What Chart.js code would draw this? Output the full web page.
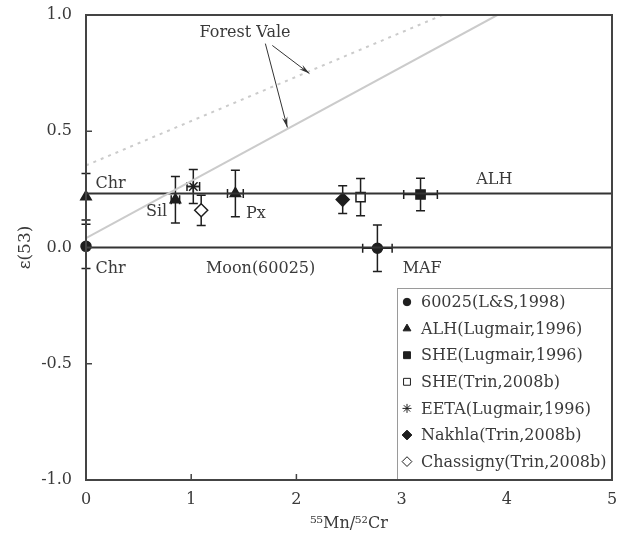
<!DOCTYPE html>
<html>
<head>
<meta charset="utf-8">
<script src="https://cdn.jsdelivr.net/npm/chart.js@4/dist/chart.umd.min.js"></script>
<style>
  html, body { margin: 0; background: #fff; }
  canvas { display: block; }
</style>
</head>
<body>
<canvas id="chart" width="620" height="535"></canvas>
<script>
const X_TICKS = [0, 1, 2, 3, 4, 5];
const Y_TICKS = [-1, -0.5, 0, 0.5, 1];

// reference lines
const ALH_LINE_X = [0, 5];
const ALH_LINE_Y = [0.232, 0.232];
const MOON_LINE_X = [0, 5];
const MOON_LINE_Y = [0, 0];
const FV_X = [0, 3.91];
const FV_Y = [0.04, 1.0];
const FV_DOT_X = [0, 3.39];
const FV_DOT_Y = [0.353, 1.0];

// samples: value, x error, y error
const LS_X = [0, 2.77];
const LS_Y = [0.005, -0.003];
const LS_EX = [0, 0.14];
const LS_EY = [0.095, 0.1];

const ALH_X = [0, 0.85, 1.42];
const ALH_Y = [0.218, 0.205, 0.232];
const ALH_EX = [0, 0.04, 0.075];
const ALH_EY = [0.1, 0.1, 0.1];

const SHEL_X = [3.18];
const SHEL_Y = [0.228];
const SHEL_EX = [0.16];
const SHEL_EY = [0.07];

const SHET_X = [2.61];
const SHET_Y = [0.217];
const SHET_EX = [0.03];
const SHET_EY = [0.08];

const EETA_X = [1.02];
const EETA_Y = [0.262];
const EETA_EX = [0.06];
const EETA_EY = [0.073];

const NAK_X = [2.44];
const NAK_Y = [0.206];
const NAK_EX = [0];
const NAK_EY = [0.06];

const CHA_X = [1.095];
const CHA_Y = [0.16];
const CHA_EX = [0];
const CHA_EY = [0.065];

const NOTES = [
  ["Forest Vale", 1.08, 0.925],
  ["Chr", 0.09, 0.275],
  ["Chr", 0.09, -0.09],
  ["Sil", 0.57, 0.155],
  ["Px", 1.52, 0.145],
  ["ALH", 3.71, 0.29],
  ["Moon(60025)", 1.14, -0.09],
  ["MAF", 3.01, -0.09],
];
const ARROWS = [
  [1.705, 0.877, 1.914, 0.516],
  [1.771, 0.869, 2.124, 0.748],
];

const FONT = "'DejaVu Serif', 'Liberation Serif', serif";
const INK = "#1e1e1e";
const TXT = "#3a3a3a";

const pts = (xs, ys) => xs.map((x, i) => ({ x, y: ys[i] }));

function lineSet(xs, ys, color, dash) {
  return {
    data: pts(xs, ys),
    showLine: true,
    borderColor: color,
    borderWidth: 2,
    borderDash: dash || [],
    pointRadius: 0,
    isLine: true,
  };
}

function pointSet(label, xs, ys, ex, ey, style, radius, fill) {
  return {
    label,
    data: pts(xs, ys),
    errX: ex,
    errY: ey,
    clip: false,
    pointStyle: style,
    pointRadius: radius,
    pointBackgroundColor: fill,
    pointBorderColor: INK,
    pointBorderWidth: 1.5,
    backgroundColor: fill,
    borderColor: INK,
    showLine: false,
  };
}

const errorBars = {
  id: "errorBars",
  beforeDatasetDraw(chart, args) {
    const ds = chart.data.datasets[args.index];
    if (!ds.errY) return;
    const { ctx, scales: { x, y } } = chart;
    ctx.save();
    ctx.strokeStyle = INK;
    ctx.lineWidth = 1.5;
    const cap = 4.5;
    ds.data.forEach((p, i) => {
      const px = x.getPixelForValue(p.x);
      const py = y.getPixelForValue(p.y);
      const ey = ds.errY[i] || 0;
      const ex = ds.errX[i] || 0;
      ctx.beginPath();
      if (ey) {
        const t = y.getPixelForValue(p.y + ey);
        const b = y.getPixelForValue(p.y - ey);
        ctx.moveTo(px, t); ctx.lineTo(px, b);
        ctx.moveTo(px - cap, t); ctx.lineTo(px + cap, t);
        ctx.moveTo(px - cap, b); ctx.lineTo(px + cap, b);
      }
      if (ex) {
        const l = x.getPixelForValue(p.x - ex);
        const r = x.getPixelForValue(p.x + ex);
        ctx.moveTo(l, py); ctx.lineTo(r, py);
        ctx.moveTo(l, py - cap); ctx.lineTo(l, py + cap);
        ctx.moveTo(r, py - cap); ctx.lineTo(r, py + cap);
      }
      ctx.stroke();
    });
    ctx.restore();
  },
};

const frame = {
  id: "frame",
  afterDatasetsDraw(chart) {
    const { ctx, chartArea: a, scales: { x, y } } = chart;
    ctx.save();
    // inward ticks
    ctx.strokeStyle = "#444";
    ctx.lineWidth = 1.5;
    ctx.beginPath();
    X_TICKS.forEach((v) => {
      const px = x.getPixelForValue(v);
      ctx.moveTo(px, a.bottom); ctx.lineTo(px, a.bottom - 6);
    });
    Y_TICKS.forEach((v) => {
      const py = y.getPixelForValue(v);
      ctx.moveTo(a.left, py); ctx.lineTo(a.left + 6, py);
    });
    ctx.stroke();

    // notes and arrows
    ctx.fillStyle = TXT;
    ctx.font = "16px " + FONT;
    ctx.textBaseline = "middle";
    ctx.textAlign = "left";
    NOTES.forEach(([t, vx, vy]) => {
      ctx.fillText(t, x.getPixelForValue(vx), y.getPixelForValue(vy));
    });
    ctx.strokeStyle = "#333";
    ctx.fillStyle = "#333";
    ctx.lineWidth = 1;
    ARROWS.forEach(([x0, y0, x1, y1]) => {
      const ax = x.getPixelForValue(x0), ay = y.getPixelForValue(y0);
      const bx = x.getPixelForValue(x1), by = y.getPixelForValue(y1);
      const ang = Math.atan2(by - ay, bx - ax);
      ctx.beginPath();
      ctx.moveTo(ax, ay); ctx.lineTo(bx, by);
      ctx.stroke();
      ctx.beginPath();
      ctx.moveTo(bx, by);
      ctx.lineTo(bx - 11 * Math.cos(ang - 0.25), by - 11 * Math.sin(ang - 0.25));
      ctx.lineTo(bx - 7 * Math.cos(ang), by - 7 * Math.sin(ang));
      ctx.lineTo(bx - 11 * Math.cos(ang + 0.25), by - 11 * Math.sin(ang + 0.25));
      ctx.closePath();
      ctx.fill();
    });

    // legend box
    const lx = a.right - 215, ly = a.bottom - 192;
    ctx.strokeStyle = "#9a9a9a";
    ctx.lineWidth = 1;
    ctx.fillStyle = "#fff";
    ctx.fillRect(lx, ly, 215, 192);
    ctx.strokeRect(lx + 0.5, ly + 0.5, 215, 192);
    const items = chart.data.datasets.filter((d) => !d.isLine);
    items.forEach((d, i) => {
      const cy = ly + 14 + i * 26.6;
      ctx.fillStyle = d.pointBackgroundColor;
      ctx.strokeStyle = INK;
      Chart.helpers.drawPoint(ctx, {
        pointStyle: d.pointStyle,
        radius: d.pointRadius * 0.75,
        rotation: 0,
        borderWidth: 1.2,
      }, lx + 10, cy);
      ctx.fillStyle = TXT;
      ctx.font = "16px " + FONT;
      ctx.textBaseline = "middle";
      ctx.fillText(d.label, lx + 24, cy + 1);
    });

    // outer frame
    ctx.strokeStyle = "#444";
    ctx.lineWidth = 2;
    ctx.strokeRect(a.left, a.top, a.right - a.left, a.bottom - a.top);
    ctx.restore();
  },
};

new Chart(document.getElementById("chart"), {
  type: "scatter",
  data: {
    datasets: [
      lineSet(FV_DOT_X, FV_DOT_Y, "#cbcbcb", [3, 5]),
      lineSet(FV_X, FV_Y, "#cbcbcb"),
      lineSet(ALH_LINE_X, ALH_LINE_Y, "#333"),
      lineSet(MOON_LINE_X, MOON_LINE_Y, "#333"),
      pointSet("60025(L&S,1998)", LS_X, LS_Y, LS_EX, LS_EY, "circle", 5, INK),
      pointSet("ALH(Lugmair,1996)", ALH_X, ALH_Y, ALH_EX, ALH_EY, "triangle", 6, INK),
      pointSet("SHE(Lugmair,1996)", SHEL_X, SHEL_Y, SHEL_EX, SHEL_EY, "rect", 6.5, INK),
      pointSet("SHE(Trin,2008b)", SHET_X, SHET_Y, SHET_EX, SHET_EY, "rect", 6.5, "#fff"),
      pointSet("EETA(Lugmair,1996)", EETA_X, EETA_Y, EETA_EX, EETA_EY, "star", 6, INK),
      pointSet("Nakhla(Trin,2008b)", NAK_X, NAK_Y, NAK_EX, NAK_EY, "rectRot", 6.5, INK),
      pointSet("Chassigny(Trin,2008b)", CHA_X, CHA_Y, CHA_EX, CHA_EY, "rectRot", 6.5, "#fff"),
    ],
  },
  options: {
    responsive: false,
    animation: false,
    layout: { padding: { left: 0, top: 15, right: 8, bottom: 0 } },
    plugins: { legend: { display: false }, tooltip: { enabled: false } },
    scales: {
      x: {
        type: "linear",
        min: 0,
        max: 5,
        afterBuildTicks: (s) => { s.ticks = X_TICKS.map((v) => ({ value: v })); },
        afterFit: (s) => {
          s.height = 55;
          s.paddingLeft = 0;
          s.paddingRight = 0;
        },
        grid: { display: false, drawTicks: false },
        border: { display: false },
        ticks: { padding: 10, color: TXT, font: { family: FONT, size: 16 } },
        title: {
          display: true,
          text: "⁵⁵Mn/⁵²Cr",
          color: TXT,
          font: { family: FONT, size: 16 },
          padding: { top: 0, bottom: 2 },
        },
      },
      y: {
        type: "linear",
        min: -1,
        max: 1,
        afterBuildTicks: (s) => { s.ticks = Y_TICKS.map((v) => ({ value: v })); },
        afterFit: (s) => {
          s.width = 86;
          s.paddingTop = 0;
          s.paddingBottom = 0;
        },
        grid: { display: false, drawTicks: false },
        border: { display: false },
        ticks: {
          padding: 14,
          color: TXT,
          font: { family: FONT, size: 16 },
          callback: (v) => Number(v).toFixed(1),
        },
        title: {
          display: true,
          text: "ε(53)",
          color: TXT,
          font: { family: FONT, size: 17 },
          padding: { top: 15, bottom: 0 },
        },
      },
    },
  },
  plugins: [errorBars, frame],
});
</script>
</body>
</html>
